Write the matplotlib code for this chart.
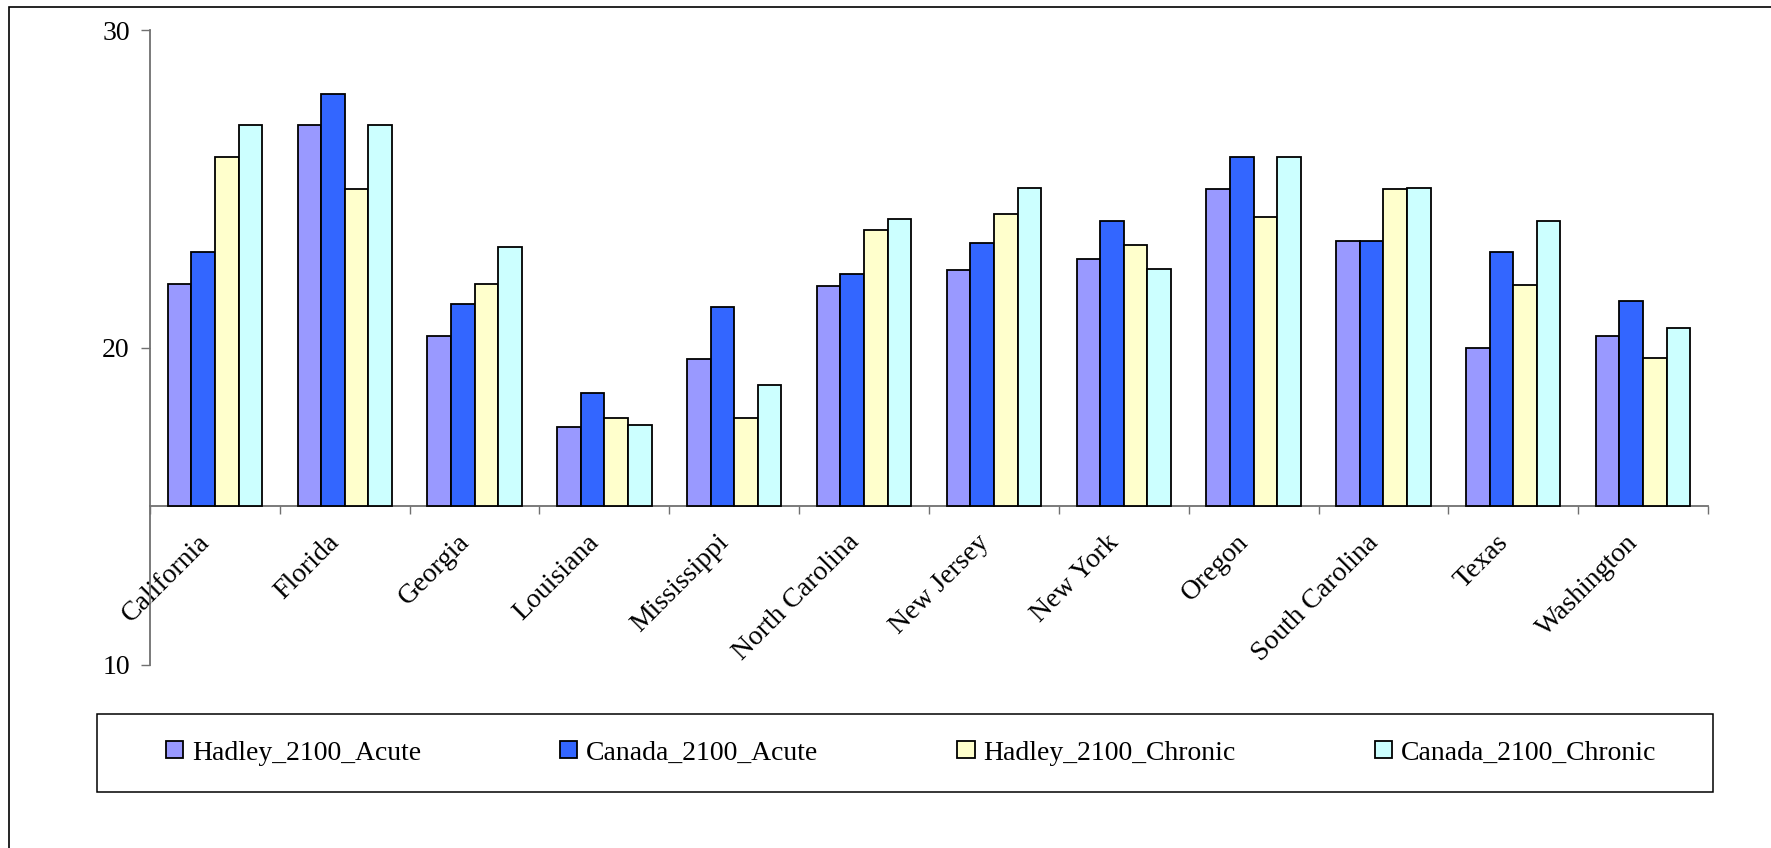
import numpy as np
import matplotlib
matplotlib.use("Agg")
import matplotlib.pyplot as plt
import matplotlib.transforms as mtransforms
from matplotlib.patches import Rectangle

states = ["California", "Florida", "Georgia", "Louisiana", "Mississippi",
          "North Carolina", "New Jersey", "New York", "Oregon",
          "South Carolina", "Texas", "Washington"]
hadley_acute = [22.0, 27.0, 20.35, 17.5, 19.63, 21.93, 22.43, 22.8, 25.0, 23.35, 20.0, 20.35]
canada_acute = [23.0, 28.0, 21.37, 18.57, 21.27, 22.33, 23.28, 24.0, 26.0, 23.35, 23.0, 21.47]
hadley_chronic = [26.0, 25.0, 22.0, 17.77, 17.77, 23.7, 24.22, 23.23, 24.12, 25.0, 21.98, 19.68]
canada_chronic = [27.0, 27.0, 23.15, 17.55, 18.82, 24.06, 25.02, 22.47, 26.0, 25.02, 24.0, 20.6]
series_names = ["Hadley_2100_Acute", "Canada_2100_Acute", "Hadley_2100_Chronic", "Canada_2100_Chronic"]
series_values = [hadley_acute, canada_acute, hadley_chronic, canada_chronic]
colors = ["#9999FF", "#3366FF", "#FFFFCC", "#CCFFFF"]
baseline = 15
y_ticks = [10, 20, 30]

plt.rcParams['font.family'] = ['Liberation Serif', 'DejaVu Serif']
FS = 20
W, H = 1771, 848
fig = plt.figure(figsize=(W / 100, H / 100), dpi=100)

ax = fig.add_axes([150 / W, 1 - 665 / H, (1708 - 150) / W, (665 - 30) / H])

n = len(states)
x = np.arange(n)
bw = 1 / 5.5
handles = []
for k, (name, vals, c) in enumerate(zip(series_names, series_values, colors)):
    v = np.array(vals)
    b = ax.bar(x + (k - 1.5) * bw, v - baseline, bottom=baseline, width=bw,
               color=c, edgecolor="black", linewidth=1.3, label=name, zorder=3)
    handles.append(b)

ax.set_xlim(-0.5, n - 0.5)
ax.set_ylim(10, 30)
ax.set_yticks(y_ticks)
ax.set_yticklabels([str(t) for t in y_ticks], fontsize=FS)

axis_col = "#707070"
for s in ["top", "right"]:
    ax.spines[s].set_visible(False)
ax.spines["left"].set_color(axis_col)
ax.spines["left"].set_linewidth(1.3)
ax.spines["bottom"].set_position(("data", baseline))
ax.spines["bottom"].set_color(axis_col)
ax.spines["bottom"].set_linewidth(1.3)
ax.spines["bottom"].set_zorder(2)

ax.tick_params(axis="y", direction="out", length=6.5, width=1.0, color=axis_col, pad=8)
ax.set_xticks(x)
ax.set_xticklabels(states, fontsize=FS, rotation=45, ha="right", va="top")
shift = mtransforms.ScaledTranslation(-6 / 100, 0, fig.dpi_scale_trans)
for lab in ax.get_xticklabels():
    lab.set_transform(lab.get_transform() + shift)
ax.set_xticks(np.arange(n + 1) - 0.5, minor=True)
ax.tick_params(axis="x", which="major", length=0, pad=17)
ax.tick_params(axis="x", which="minor", direction="out", length=5.8, width=1.0, color=axis_col)
ax.patch.set_visible(False)

# legend
leg = fig.legend(handles=handles, labels=series_names, loc="center left",
                 bbox_to_anchor=(166 / W, 1 - 753 / H), ncol=4, frameon=False,
                 fontsize=FS, borderpad=0, borderaxespad=0, handlelength=0.62,
                 handleheight=0.58, handletextpad=0.32, columnspacing=5.0)
for p in leg.get_patches():
    p.set_linewidth(1.3)

fig.patches.append(Rectangle((97 / W, 1 - 792 / H), (1713 - 97) / W, 78 / H,
                             transform=fig.transFigure, fill=False,
                             edgecolor="black", linewidth=1.1, zorder=0))
fig.patches.append(Rectangle((9 / W, -0.5), 2.0, 1.5 - 7 / H,
                             transform=fig.transFigure, fill=False,
                             edgecolor="black", linewidth=1.2, zorder=0))

fig.savefig("out.png", dpi=100)
